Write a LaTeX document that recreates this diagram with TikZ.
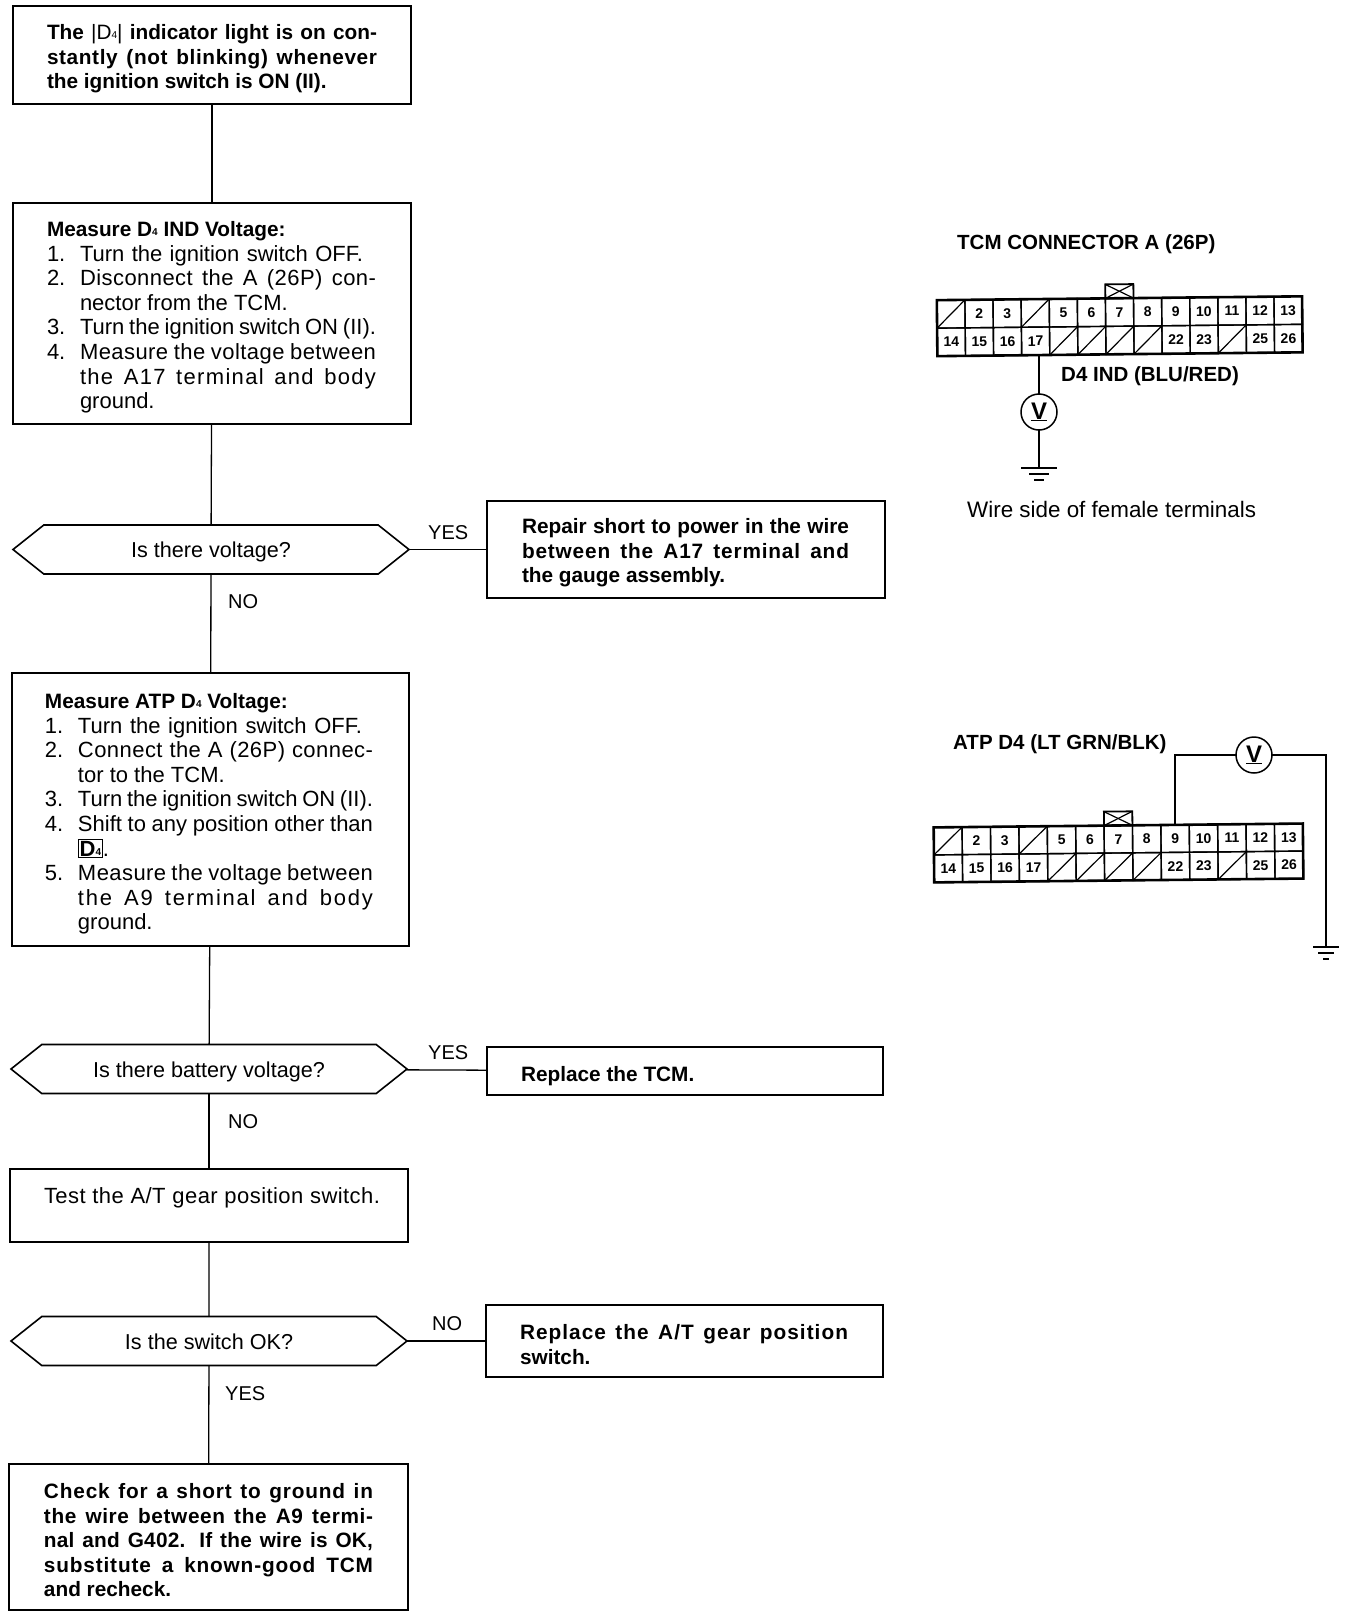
\documentclass[tikz,border=0pt]{standalone}
\usepackage{fontspec}
\setmainfont{Liberation Sans}
\usetikzlibrary{shapes.symbols}
% box text: width, height, top gap, left gap, lines
\newcommand{\boxbody}[5]{\vbox to #2pt{\offinterlineskip\def\padk{#4pt}\hrule height0pt width#1pt\vskip#3pt #5\vfil}}
\newcommand{\lstrut}{\rule[-6.6pt]{0pt}{24.6pt}}
\newcommand{\lin}[1]{\hbox{\kern\padk\lstrut#1}}
\newcommand{\jus}[2]{\hbox{\kern\padk\lstrut\makebox[#1pt][s]{#2}}}
\newcommand{\itm}[2]{\hbox{\kern\padk\lstrut\makebox[33pt][l]{#1}#2}}
\newcommand{\itj}[3]{\hbox{\kern\padk\lstrut\makebox[33pt][l]{#1}\makebox[#2pt][s]{#3}}}
\newcommand{\smfour}{\raisebox{1pt}{\fontsize{10}{10}\selectfont 4}}
\newcommand{\heavy}{\fontsize{20.8}{24.6}\selectfont\bfseries}
\newcommand{\trk}[1]{\addfontfeature{LetterSpace=#1}}
% connector cells of one plug, width and height
\newcommand{\plugcells}[2]{
  \foreach \n in {1,...,13} \node[cell,minimum width=#1pt,minimum height=#2pt] (c\n) at ({(\n-1)*#1},0) {};
  \foreach \n in {14,...,26} \node[cell,minimum width=#1pt,minimum height=#2pt] (c\n) at ({(\n-14)*#1},#2) {};
  \foreach \n in {2,3,5,6,7,8,9,10,11,12,13,14,15,16,17,22,23,25,26} \node[pin] (n\n) at (c\n) {\n};
  \foreach \n in {1,4,18,19,20,21,24} \draw[thinwire] (c\n.south west) -- (c\n.north east);
  \draw[frame] (c1.north west) -- (c13.north east) -- (c26.south east) -- (c14.south west) -- cycle;
  \node[keybox,minimum width=#1pt,anchor=south] (key) at (c7.north) {};
  \draw[thinwire] (key.north west) -- (key.south east);
  \draw[thinwire] (key.south west) -- (key.north east);
}
\newcommand{\groundmark}[4]{
  \draw[wire] ([xshift=-#2pt]#1) -- ([xshift=#2pt]#1);
  \draw[wire] ([xshift=-#3pt,yshift=-6pt]#1) -- ([xshift=#3pt,yshift=-6pt]#1);
  \draw[wire] ([xshift=-#4pt,yshift=-12pt]#1) -- ([xshift=#4pt,yshift=-12pt]#1);
}
\tikzset{
  stepbox/.style={draw,line width=1.6pt,inner sep=0pt,outer sep=0pt,anchor=north west,font=\fontsize{22}{24.6}\selectfont},
  askhex/.style={draw,line width=1.6pt,signal,signal to=west and east,signal pointer angle=77,inner sep=0pt,outer sep=0pt,minimum width=396pt,minimum height=49pt,text height=16pt,text depth=0pt,font=\fontsize{21.6}{24}\selectfont},
  answer/.style={inner sep=0pt,anchor=base west,font=\fontsize{20}{24}\selectfont},
  plugtext/.style={inner sep=0pt,anchor=base west,font=\fontsize{20.5}{24}\selectfont\bfseries},
  link/.style={line width=1.3pt},
  wire/.style={line width=1.9pt},
  thinwire/.style={line width=1.2pt},
  frame/.style={line width=2.6pt},
  cell/.style={draw,line width=1.4pt,inner sep=0pt,outer sep=0pt},
  pin/.style={inner sep=0pt,font=\fontsize{14}{14}\selectfont\bfseries},
  keybox/.style={draw,line width=1.8pt,inner sep=0pt,outer sep=0pt,minimum height=14pt},
  vmeter/.style={draw,circle,line width=1.5pt,inner sep=0pt,outer sep=0pt,minimum size=36pt,font=\fontsize{24}{24}\selectfont\bfseries}
}
\begin{document}
\begin{tikzpicture}[x=1pt,y=-1pt]
\useasboundingbox (0,0) rectangle (1360,1618);
% flow chart
\node[stepbox] (lightbox) at (13,6) {\boxbody{398}{98}{15.5}{34}{\heavy
  \jus{330}{The \mdseries|D\smfour|\bfseries{} indicator light is on con-}
  \jus{330}{\trk{3}stantly (not blinking) whenever}
  \lin{the ignition switch is ON (II).}}};
\node[stepbox] (indbox) at (13,203) {\boxbody{398}{221}{15.5}{34}{
  \lin{\heavy Measure D\smfour{} IND Voltage:}
  \itj{1.}{283}{Turn the ignition switch OFF.}
  \itj{2.}{296}{\trk{2}Disconnect the A (26P) con-}
  \itm{}{nector from the TCM.}
  \itj{3.}{296}{Turn the ignition switch ON (II).}
  \itj{4.}{296}{\trk{2}Measure the voltage between}
  \itj{}{296}{\trk{6}the A17 terminal and body}
  \itm{}{ground.}}};
\node[askhex] (volthex) at (211,549.5) {Is there voltage?};
\node[stepbox] (shortbox) at (487,501) {\boxbody{398}{97}{14.5}{35}{\heavy
  \jus{327}{Repair short to power in the wire}
  \jus{327}{\trk{4}between the A17 terminal and}
  \lin{the gauge assembly.}}};
\node[stepbox] (atpbox) at (12,673) {\boxbody{397}{273}{17.5}{33}{
  \lin{\heavy Measure ATP D\smfour{} Voltage:}
  \itj{1.}{284}{Turn the ignition switch OFF.}
  \itj{2.}{295}{\trk{2}Connect the A (26P) connec-}
  \itm{}{tor to the TCM.}
  \itj{3.}{295}{Turn the ignition switch ON (II).}
  \itj{4.}{295}{Shift to any position other than}
  \itm{}{\setlength{\fboxsep}{1pt}\setlength{\fboxrule}{0.7pt}\fbox{\bfseries D\smfour}.}
  \itj{5.}{295}{\trk{2}Measure the voltage between}
  \itj{}{295}{\trk{8}the A9 terminal and body}
  \itm{}{ground.}}};
\node[askhex] (batthex) at (209,1069) {Is there battery voltage?};
\node[stepbox] (tcmbox) at (487,1047) {\boxbody{396}{48}{16.5}{34}{\heavy
  \lin{Replace the TCM.}}};
\node[stepbox] (testbox) at (10,1169) {\boxbody{398}{73}{16.5}{34}{
  \jus{336}{\trk{2}Test the A/T gear position switch.}}};
\node[askhex] (okhex) at (209,1341) {Is the switch OK?};
\node[stepbox] (gearbox) at (486,1305) {\boxbody{397}{72}{16.5}{34}{\heavy
  \jus{328}{\trk{5}Replace the A/T gear position}
  \lin{switch.}}};
\node[stepbox] (shortgnd) at (9,1464) {\boxbody{399}{146}{16.5}{35}{\heavy
  \jus{329}{\trk{4}Check for a short to ground in}
  \jus{329}{\trk{3}the wire between the A9 termi-}
  \jus{329}{\trk{1}nal and G402. If the wire is OK,}
  \jus{329}{\trk{4}substitute a known-good TCM}
  \lin{and recheck.}}};
\draw[link] (lightbox) -- (indbox);
\draw[link] (indbox) -- (volthex);
\draw[link] (volthex) -- (atpbox);
\draw[link] (volthex) -- (shortbox);
\draw[link] (atpbox) -- (batthex);
\draw[link] (batthex) -- (testbox);
\draw[link] (batthex) -- (tcmbox);
\draw[link] (testbox) -- (okhex);
\draw[link] (okhex) -- (gearbox);
\draw[link] (okhex) -- (shortgnd);
\node[answer] (yesa) at (428,539) {YES};
\node[answer] (noa) at (228,608) {NO};
\node[answer] (yesb) at (428,1059) {YES};
\node[answer] (nob) at (228,1128) {NO};
\node[answer] (noc) at (432,1330) {NO};
\node[answer] (yesc) at (225,1400) {YES};
% first connector
\node[plugtext] (plugtitle) at (957,249) {TCM CONNECTOR A (26P)};
\begin{scope}[shift={(951,314)},rotate=0.6,transform shape,name prefix=pa-]
\plugcells{28.1}{28}
\end{scope}
\node[plugtext] (indname) at (1061,381) {D4 IND (BLU/RED)};
\node[vmeter] (va) at (1039,412) {\underline{V}};
\coordinate (ga) at (1039,468);
\draw[wire] (va |- pa-c17.south) -- (va);
\draw[wire] (va) -- (ga);
\groundmark{ga}{18}{10}{5}
\node[answer,font=\fontsize{22.4}{24}\selectfont] (sidenote) at (967,517) {Wire side of female terminals};
% second connector
\node[plugtext] (atpname) at (953,749) {ATP D4 (LT GRN/BLK)};
\begin{scope}[shift={(948,841)},rotate=0.6,transform shape,name prefix=pb-]
\plugcells{28.4}{27.5}
\end{scope}
\node[vmeter] (vb) at (1254,755) {\underline{V}};
\coordinate (gb) at (1326,947);
\draw[wire] (pb-c9.north) |- (vb);
\draw[wire] (vb) -| (gb);
\groundmark{gb}{13}{8}{3}
\end{tikzpicture}
\end{document}
